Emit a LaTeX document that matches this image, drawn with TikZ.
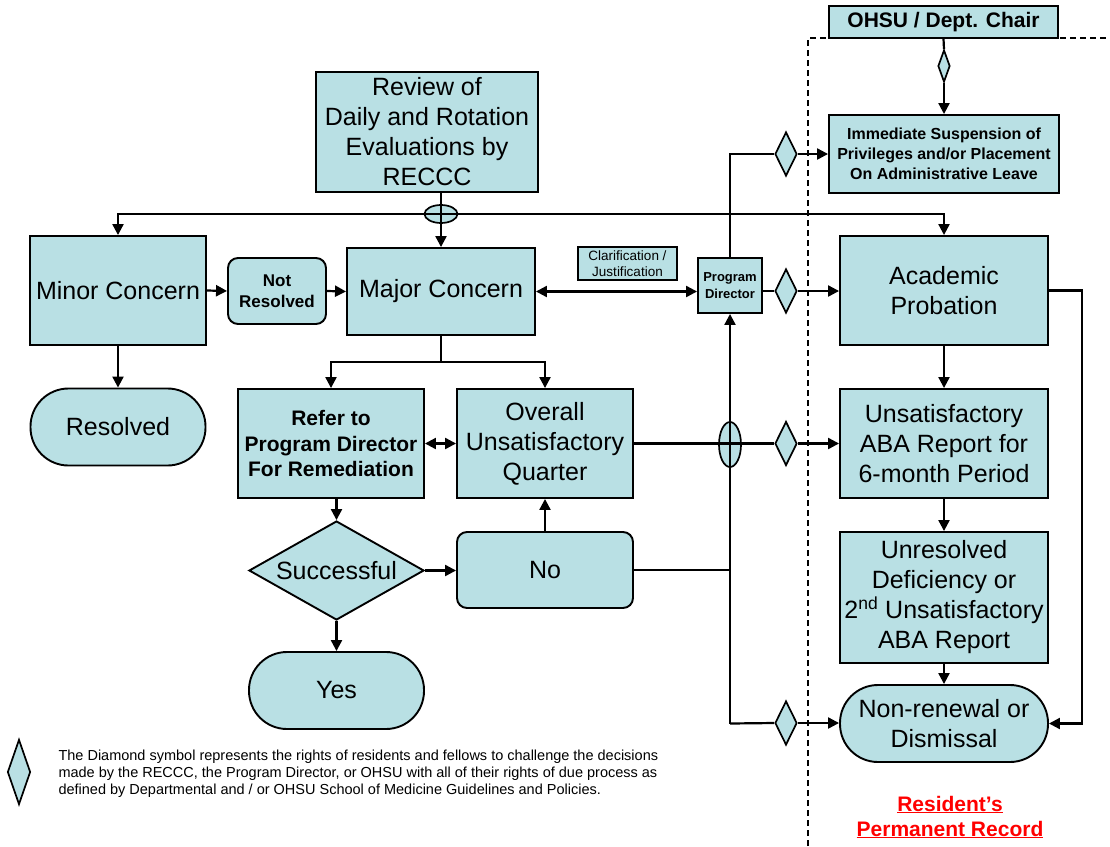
\documentclass[tikz,border=0pt]{standalone}
\usepackage{fontspec}
\setmainfont{Liberation Sans}
\usetikzlibrary{shapes.geometric,arrows.meta}
\definecolor{boxfill}{RGB}{185,224,228}
\definecolor{recordred}{RGB}{255,0,0}
\tikzset{
  box/.style={draw, fill=boxfill, line width=1.9pt, inner sep=0pt, align=center, font=\fontsize{25}{30}\selectfont},
  boldbox/.style={box, font=\bfseries\fontsize{21}{25.5}\selectfont},
  roundbox/.style={box, rounded corners=10pt},
  endbox/.style={box, rounded corners=38pt},
  appeal/.style={diamond, draw, fill=boxfill, line width=1.7pt, inner sep=0pt, minimum width=22pt, minimum height=44pt},
  junction/.style={ellipse, draw, fill=boxfill, line width=1.7pt, inner sep=0pt},
  link/.style={line width=2.2pt}
}
\begin{document}
\begin{tikzpicture}[x=1pt,y=-1pt,>={Triangle[length=11pt,width=11pt]}]
\useasboundingbox (0,0) rectangle (1110,846);
\draw[line width=1.3pt, dash pattern=on 6pt off 4pt] (808,846) -- (808,38) -- (1110,38);
\node[junction, minimum width=33pt, minimum height=18pt] (e1) at (441,214) {};
\node[junction, minimum width=22pt, minimum height=45pt] (e2) at (730,444.5) {};
\node[box, minimum width=222pt, minimum height=120pt] (review) at (427,132) {Review of\\Daily and Rotation\\Evaluations by\\RECCC};
\node[box, minimum width=176pt, minimum height=109pt] (minor) at (118,290.5) {Minor Concern};
\node[roundbox, font=\bfseries\fontsize{17}{21}\selectfont, minimum width=98pt, minimum height=66pt] (notres) at (277,291) {Not\\Resolved};
\node[box, minimum width=188pt, minimum height=87pt] (major) at (441,291.5) {Major Concern};
\node[box, line width=1.2pt, font=\fontsize{13.5}{16}\selectfont, minimum width=99pt, minimum height=33pt] (clar) at (627.5,263.5) {Clarification /\\Justification};
\node[box, font=\bfseries\fontsize{13}{17}\selectfont, minimum width=64pt, minimum height=55pt] (pd) at (730,285.5) {Program\\Director};
\node[box, minimum width=208pt, minimum height=109pt] (acad) at (944,290.5) {Academic\\Probation};
\node[box, font=\bfseries\fontsize{21}{25}\selectfont, minimum width=229pt, minimum height=32pt] (ohsu) at (943.5,22) {OHSU / Dept. Chair};
\node[box, font=\bfseries\fontsize{16}{20}\selectfont, minimum width=230pt, minimum height=78pt] (imm) at (944,154) {Immediate Suspension of\\Privileges and/or Placement\\On Administrative Leave};
\node[endbox, minimum width=175pt, minimum height=77pt] (resolved) at (118,427) {Resolved};
\node[boldbox, minimum width=186pt, minimum height=109pt] (refer) at (331,443.5) {Refer to\\Program Director\\For Remediation};
\node[box, minimum width=176pt, minimum height=109pt] (overall) at (545,443.5) {Overall\\Unsatisfactory\\Quarter};
\node[box, minimum width=208pt, minimum height=109pt] (aba) at (944,443.5) {Unsatisfactory\\ABA Report for\\6-month Period};
\node[box, diamond, minimum width=175pt, minimum height=99pt, label={[font=\fontsize{25}{30}\selectfont]center:Successful}] (succ) at (336.5,570.5) {};
\node[roundbox, minimum width=176pt, minimum height=76pt] (no) at (545,570) {No};
\node[endbox, minimum width=175pt, minimum height=77pt] (yes) at (336.5,690.5) {Yes};
\node[box, minimum width=208pt, minimum height=131pt] (unres) at (944,597.5) {Unresolved\\Deficiency or\\2\textsuperscript{nd} Unsatisfactory\\ABA Report};
\node[endbox, minimum width=208pt, minimum height=77pt] (nonren) at (944,723.5) {Non-renewal or\\Dismissal};
\node[appeal, minimum width=12pt, minimum height=32pt] (d0) at (944,66) {};
\node[appeal] (d1) at (786,154) {};
\node[appeal] (d2) at (786,291) {};
\node[appeal] (d3) at (786,443.5) {};
\node[appeal] (d4) at (786,723) {};
\node[appeal, minimum width=23pt, minimum height=65pt] (key) at (19,772) {};
\node[anchor=west, align=left, font=\fontsize{14.5}{17}\selectfont] (note) at (55,774) {The Diamond symbol represents the rights of residents and fellows to challenge the decisions\\made by the RECCC, the Program Director, or OHSU with all of their rights of due process as\\defined by Departmental and / or OHSU School of Medicine Guidelines and Policies.};
\node[align=center, text=recordred, font=\bfseries\fontsize{21}{25}\selectfont] (record) at (950,817) {\underline{Resident’s}\\\underline{Permanent Record}};
\coordinate (split) at (441,362);
\coordinate (join) at (pd.south |- nonren.west);
\draw[link,->] (e1 |- review.south) -- (major.north);
\draw[link,->] (e1.center) -| (minor.north);
\draw[link,->] (e1.center) -| (acad.north);
\draw[link,->] (minor.east) -- (notres.west);
\draw[link,->] (notres.east) -- (major.west);
\draw[link,->] (minor.south) -- (resolved.north);
\draw[link,<->] (major.east) -- (major.east -| pd.west);
\draw[link] (pd.east |- d2) -- (d2.west);
\draw[link,->] (d2.east) -- (acad.west |- d2);
\draw[link] (pd.north) |- (d1.west);
\draw[link,->] (d1.east) -- (imm.west);
\draw[link] (ohsu.south) -- (d0.north);
\draw[link,->] (d0.south) -- (imm.north);
\draw[link] (major.south) -- (split);
\draw[link,->] (split) -| (refer.north);
\draw[link,->] (split) -| (overall.north);
\draw[link,<->] (refer.east) -- (overall.west);
\draw[link,->] (succ.north |- refer.south) -- (succ.north);
\draw[link,->] (succ.east) -- (no.west |- succ.east);
\draw[link,->] (no.north) -- (overall.south);
\draw[link,->] (succ.south) -- (yes.north);
\draw[link] (no.east) -- (no.east -| join);
\draw[link,->] (join) -- (pd.south);
\draw[link] (join) -- (d4.west);
\draw[link,->] (d4.east) -- (nonren.west |- d4);
\draw[link] (overall.east) -- (d3.west);
\draw[link,->] (d3.east) -- (aba.west);
\draw[link,->] (acad.south) -- (aba.north);
\draw[link,->] (aba.south) -- (unres.north);
\draw[link,->] (unres.south) -- (nonren.north);
\draw[link,->] (acad.east) -- ++(33,0) |- (nonren.east);
\end{tikzpicture}
\end{document}
